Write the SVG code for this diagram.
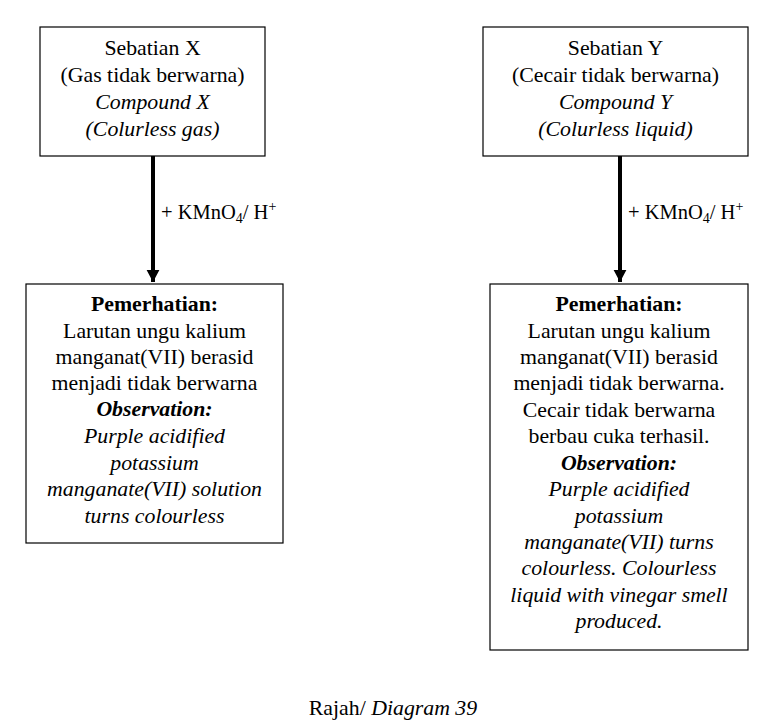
<svg xmlns="http://www.w3.org/2000/svg" width="781" height="728" viewBox="0 0 781 728">
<style>
text{font-family:"Liberation Serif","Times New Roman",serif;font-size:21.8px;fill:#000;text-anchor:middle}
.i{font-style:italic}
.b{font-weight:bold}
.box{fill:#fff;stroke:#000;stroke-width:1.2}
.lab{text-anchor:start;font-size:20.5px}
.s{font-size:14px}
</style>
<defs>
<marker id="ah" markerWidth="4" markerHeight="4" refX="3" refY="2" orient="auto" markerUnits="strokeWidth">
<path d="M0,0.4 L3,2 L0,3.6 z" fill="#000"/>
</marker>
</defs>
<rect width="781" height="728" fill="#fff"/>
<g id="connectors">
<line x1="153" y1="156" x2="153" y2="282" stroke="#000" stroke-width="4" marker-end="url(#ah)"/>
<text class="lab" x="161" y="219">+ KMnO<tspan class="s" dy="4">4</tspan><tspan dy="-4">/ H</tspan><tspan class="s" dy="-8">+</tspan></text>
<line x1="620" y1="156" x2="620" y2="282" stroke="#000" stroke-width="4" marker-end="url(#ah)"/>
<text class="lab" x="628" y="219">+ KMnO<tspan class="s" dy="4">4</tspan><tspan dy="-4">/ H</tspan><tspan class="s" dy="-8">+</tspan></text>
</g>
<g id="compoundX">
<rect class="box" x="40" y="27" width="225" height="129"/>
<text x="152.5" y="55">Sebatian X</text>
<text x="152.5" y="82">(Gas tidak berwarna)</text>
<text class="i" x="152.5" y="109">Compound X</text>
<text class="i" x="152.5" y="136">(Colurless gas)</text>
</g>
<g id="compoundY">
<rect class="box" x="483" y="27" width="265" height="129"/>
<text x="615.5" y="55">Sebatian Y</text>
<text x="615.5" y="82">(Cecair tidak berwarna)</text>
<text class="i" x="615.5" y="109">Compound Y</text>
<text class="i" x="615.5" y="136">(Colurless liquid)</text>
</g>
<g id="observationX">
<rect class="box" x="26" y="284" width="257" height="259"/>
<text class="b" x="154.5" y="311">Pemerhatian:</text>
<text x="154.5" y="338">Larutan ungu kalium</text>
<text x="154.5" y="364">manganat(VII) berasid</text>
<text x="154.5" y="390">menjadi tidak berwarna</text>
<text class="b i" x="154.5" y="416">Observation:</text>
<text class="i" x="154.5" y="443">Purple acidified</text>
<text class="i" x="154.5" y="470">potassium</text>
<text class="i" x="154.5" y="496">manganate(VII) solution</text>
<text class="i" x="154.5" y="523">turns colourless</text>
</g>
<g id="observationY">
<rect class="box" x="490" y="284" width="258" height="366"/>
<text class="b" x="619" y="311">Pemerhatian:</text>
<text x="619" y="338">Larutan ungu kalium</text>
<text x="619" y="364">manganat(VII) berasid</text>
<text x="619" y="390">menjadi tidak berwarna.</text>
<text x="619" y="417">Cecair tidak berwarna</text>
<text x="619" y="443">berbau cuka terhasil.</text>
<text class="b i" x="619" y="470">Observation:</text>
<text class="i" x="619" y="496">Purple acidified</text>
<text class="i" x="619" y="523">potassium</text>
<text class="i" x="619" y="549">manganate(VII) turns</text>
<text class="i" x="619" y="575">colourless. Colourless</text>
<text class="i" x="619" y="602">liquid with vinegar smell</text>
<text class="i" x="619" y="628">produced.</text>
</g>
<g id="caption">
<text x="393" y="715">Rajah/ <tspan class="i">Diagram 39</tspan></text>
</g>
</svg>
